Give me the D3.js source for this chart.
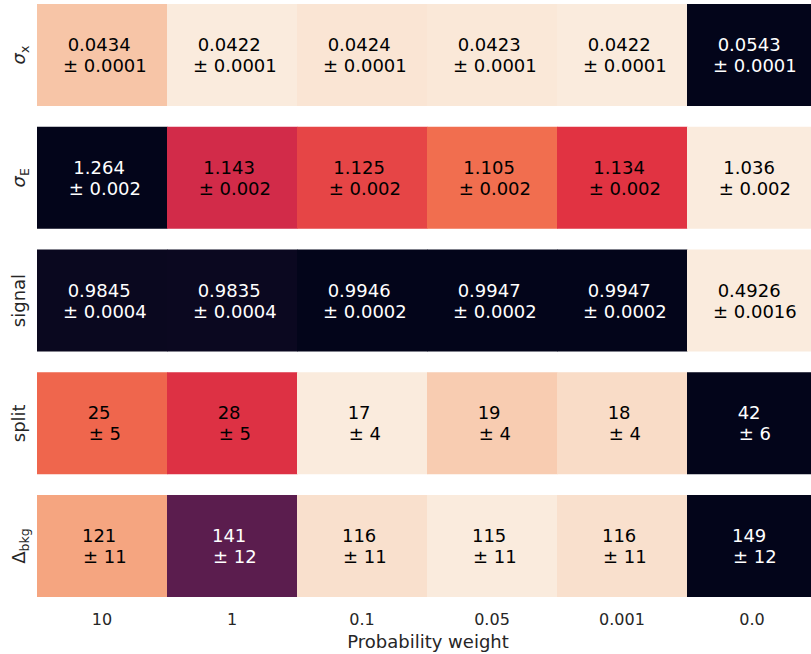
<!DOCTYPE html>
<html>
<head>
<meta charset="utf-8">
<script src="https://cdn.jsdelivr.net/npm/d3@7"></script>
<style>
  html, body { margin: 0; padding: 0; background: #ffffff; }
  svg { display: block; font-family: "DejaVu Sans", sans-serif; }
  .cell-text { white-space: pre; }
</style>
</head>
<body>
<svg id="chart" width="811" height="654"></svg>
<script>
// Probability weights along the x axis
const weights = ["10", "1", "0.1", "0.05", "0.001", "0.0"];

// Row labels: main symbol, optional subscript, and whether the main symbol is italic
const rowMain = ["σ", "σ", "signal", "split", "Δ"];
const rowSub  = ["x", "E", "", "", "bkg"];
const rowItalic = [true, true, false, false, false];

// Fitted values per row (one per weight)
const sigmaX     = [0.0434, 0.0422, 0.0424, 0.0423, 0.0422, 0.0543];
const sigmaE     = [1.264, 1.143, 1.125, 1.105, 1.134, 1.036];
const signal     = [0.9845, 0.9835, 0.9946, 0.9947, 0.9947, 0.4926];
const split      = [25, 28, 17, 19, 18, 42];
const deltaBkg   = [121, 141, 116, 115, 116, 149];

// Uncertainties per row
const sigmaXErr  = [0.0001, 0.0001, 0.0001, 0.0001, 0.0001, 0.0001];
const sigmaEErr  = [0.002, 0.002, 0.002, 0.002, 0.002, 0.002];
const signalErr  = [0.0004, 0.0004, 0.0002, 0.0002, 0.0002, 0.0016];
const splitErr   = [5, 5, 4, 4, 4, 6];
const deltaBkgErr = [11, 12, 11, 11, 11, 12];

// Decimal places used when printing each row
const rowDecimals = [4, 3, 4, 0, 0];

const rowValues = [sigmaX, sigmaE, signal, split, deltaBkg];
const rowErrors = [sigmaXErr, sigmaEErr, signalErr, splitErr, deltaBkgErr];

// Reversed "rocket" colour map: light cream -> orange -> crimson -> purple -> near-black
const rocketStops = ["#03051a", "#35193e", "#701f57", "#ad1759", "#e13342", "#f37651", "#f6b48f", "#faebdd"];
const rocket = d3.piecewise(d3.interpolateRgb, rocketStops);
const rocketR = t => rocket(1 - t);

const svg = d3.select("#chart");

const x = d3.scaleBand().domain(weights).range([37, 817]).padding(0);
const rowIdx = d3.range(rowValues.length);
const y = d3.scaleBand().domain(rowIdx).range([4, 597]).paddingInner(0.169).paddingOuter(0);

const textDark = "#262626";

rowIdx.forEach(r => {
  const vals = rowValues[r];
  const errs = rowErrors[r];
  const norm = d3.scaleLinear().domain(d3.extent(vals)).range([0, 1]);
  const g = svg.append("g").attr("class", "row");
  const cells = weights.map((w, i) => ({ w, v: vals[i], e: errs[i], t: norm(vals[i]) }));

  g.selectAll("rect")
    .data(cells)
    .join("rect")
    .attr("x", d => x(d.w))
    .attr("y", y(r))
    .attr("width", x.bandwidth() + 0.5)
    .attr("height", y.bandwidth())
    .attr("fill", d => rocketR(d.t));

  const cy = y(r) + y.bandwidth() / 2;
  const labels = g.selectAll("text.cell-text")
    .data(cells)
    .join("text")
    .attr("class", "cell-text")
    .attr("text-anchor", "middle")
    .attr("font-size", 18)
    .attr("fill", d => d.t > 0.6 ? "#ffffff" : "#000000");
  labels.append("tspan")
    .attr("x", d => x(d.w) + x.bandwidth() / 2)
    .attr("y", cy - 4)
    .text(d => d.v.toFixed(rowDecimals[r]) + " ");
  labels.append("tspan")
    .attr("x", d => x(d.w) + x.bandwidth() / 2)
    .attr("y", cy + 17)
    .text(d => " ± " + d.e.toFixed(rowDecimals[r]));

  // Rotated row label
  const lab = svg.append("text")
    .attr("transform", `translate(25,${cy}) rotate(-90)`)
    .attr("text-anchor", "middle")
    .attr("font-size", 18)
    .attr("fill", textDark);
  lab.append("tspan")
    .attr("font-style", rowItalic[r] ? "italic" : "normal")
    .text(rowMain[r]);
  if (rowSub[r]) {
    lab.append("tspan").attr("font-size", 12.5).attr("dy", 3.5).text(rowSub[r]);
  }
});

// Bottom axis with the probability weights
const axis = d3.axisBottom(x).tickSize(0).tickPadding(0);
const ax = svg.append("g")
  .attr("transform", `translate(0,${y(rowIdx.length - 1) + y.bandwidth()})`)
  .call(axis);
ax.select(".domain").remove();
ax.selectAll("text")
  .attr("font-family", "DejaVu Sans, sans-serif")
  .attr("font-size", 16)
  .attr("fill", textDark)
  .attr("y", 28)
  .attr("dy", null);

svg.append("text")
  .attr("x", 428)
  .attr("y", 648)
  .attr("text-anchor", "middle")
  .attr("font-size", 18)
  .attr("fill", textDark)
  .text("Probability weight");
</script>
</body>
</html>
